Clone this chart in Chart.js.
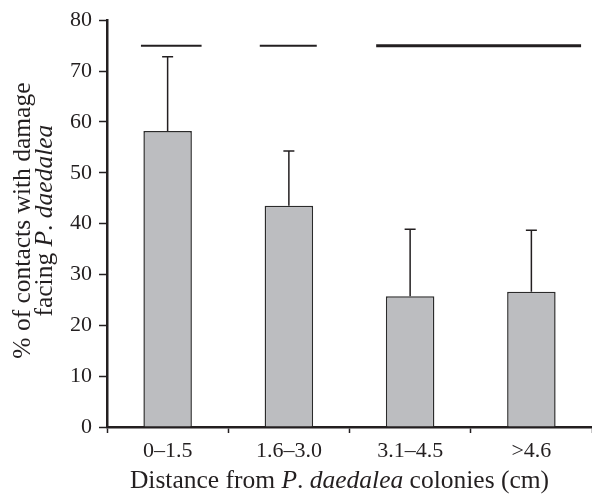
<!DOCTYPE html>
<html>
<head>
<meta charset="utf-8">
<script src="https://cdn.jsdelivr.net/npm/chart.js@4.4.0/dist/chart.umd.min.js"></script>
<style>
  html, body { margin: 0; padding: 0; background: #fff; }
  #wrap { width: 592px; height: 495px; }
</style>
</head>
<body>
<div id="wrap"><canvas id="damageChart"></canvas></div>
<script>
// ── Data ──
const categories = ['0\u20131.5', '1.6\u20133.0', '3.1\u20134.5', '>4.6'];
const damagePct = [58.2, 43.5, 25.7, 26.6];
const errorTop = [72.8, 54.3, 38.9, 38.7];
const yTicks = [0, 10, 20, 30, 40, 50, 60, 70, 80];

// significance bars (category index units) drawn at y = 75
const sigStart = [-0.22, 0.76, 1.72];
const sigEnd = [0.28, 1.23, 3.41];
const sigLevel = 75;

const SERIF = '"Liberation Serif", "DejaVu Serif", serif';
const INK = '#231f20';

// ── Error bars (upper only) ──
const errorBarPlugin = {
    id: 'errorBars',
    afterDatasetsDraw(chart) {
        const ctx = chart.ctx;
        const meta = chart.getDatasetMeta(0);
        const y = chart.scales.y;
        ctx.save();
        ctx.strokeStyle = INK;
        ctx.lineWidth = 1.5;
        meta.data.forEach((bar, i) => {
            const top = y.getPixelForValue(errorTop[i]);
            ctx.beginPath();
            ctx.moveTo(bar.x, bar.y);
            ctx.lineTo(bar.x, top);
            ctx.moveTo(bar.x - 5.5, top);
            ctx.lineTo(bar.x + 5.5, top);
            ctx.stroke();
        });
        ctx.restore();
    }
};

// ── Significance lines ──
const sigPlugin = {
    id: 'sigLines',
    afterDatasetsDraw(chart) {
        const ctx = chart.ctx;
        const x = chart.scales.x, y = chart.scales.y;
        const py = y.getPixelForValue(sigLevel);
        ctx.save();
        ctx.strokeStyle = INK;
        sigStart.forEach((s, i) => {
            ctx.lineWidth = i === 2 ? 3 : 2;
            ctx.beginPath();
            ctx.moveTo(x.getPixelForValue(s), py);
            ctx.lineTo(x.getPixelForValue(sigEnd[i]), py);
            ctx.stroke();
        });
        ctx.restore();
    }
};

// draw a line made of [text, italic] pieces, centred on cx
function drawMixed(ctx, parts, cx, cy, size) {
    const widths = parts.map(p => {
        ctx.font = (p[1] ? 'italic ' : '') + size + 'px ' + SERIF;
        return ctx.measureText(p[0]).width;
    });
    let xPos = cx - widths.reduce((a, b) => a + b, 0) / 2;
    parts.forEach((p, i) => {
        ctx.font = (p[1] ? 'italic ' : '') + size + 'px ' + SERIF;
        ctx.fillText(p[0], xPos, cy);
        xPos += widths[i];
    });
}

// ── Axis titles ──
const titlePlugin = {
    id: 'axisTitles',
    afterDraw(chart) {
        const ctx = chart.ctx;
        const area = chart.chartArea;
        ctx.save();
        ctx.fillStyle = INK;
        ctx.textBaseline = 'middle';
        ctx.textAlign = 'left';

        // x title
        drawMixed(ctx, [['Distance from ', false], ['P', true], ['. ', false], ['daedalea', true], [' colonies (cm)', false]],
            (area.left + area.right) / 2 - 10, 481, 25.5);

        // y title (rotated)
        ctx.translate(33, (area.top + area.bottom) / 2 - 3);
        ctx.rotate(-Math.PI / 2);
        drawMixed(ctx, [['% of contacts with damage', false]], 0, -10, 25.5);
        drawMixed(ctx, [['facing ', false], ['P', true], ['. ', false], ['daedalea', true]], 0, 12, 25.5);
        ctx.restore();
    }
};

// ── Chart ──
function initDamageChart() {
    const ctx = document.getElementById('damageChart').getContext('2d');

    new Chart(ctx, {
        type: 'bar',
        data: {
            labels: categories,
            datasets: [{
                data: damagePct,
                backgroundColor: '#bcbdc0',
                borderColor: '#2b2b2b',
                borderWidth: 1.5,
                borderSkipped: 'bottom',
                categoryPercentage: 1.0,
                barPercentage: 0.4
            }]
        },
        plugins: [errorBarPlugin, sigPlugin, titlePlugin],
        options: {
            responsive: true,
            maintainAspectRatio: false,
            animation: false,
            layout: { padding: { top: 20, right: 0, bottom: 0, left: 0 } },
            plugins: {
                legend: { display: false },
                tooltip: { enabled: false }
            },
            scales: {
                x: {
                    offset: true,
                    grid: {
                        offset: true,
                        drawOnChartArea: false,
                        drawTicks: true,
                        tickLength: 6,
                        tickWidth: 1.5,
                        tickColor: INK
                    },
                    border: { display: true, color: INK, width: 2.5 },
                    ticks: {
                        color: INK,
                        font: { family: SERIF, size: 22 },
                        padding: 5,
                        maxRotation: 0
                    },
                    afterFit(scale) { scale.height = 68; }
                },
                y: {
                    min: 0,
                    max: 80,
                    afterBuildTicks(scale) { scale.ticks = yTicks.map(v => ({ value: v })); },
                    grid: {
                        drawOnChartArea: false,
                        drawTicks: true,
                        tickLength: 8,
                        tickWidth: 1.5,
                        tickColor: INK
                    },
                    border: { display: true, color: INK, width: 2.5 },
                    ticks: {
                        color: INK,
                        font: { family: SERIF, size: 22 },
                        padding: 7
                    },
                    afterFit(scale) { scale.width = 107; }
                }
            }
        }
    });
}

initDamageChart();
</script>
</body>
</html>
